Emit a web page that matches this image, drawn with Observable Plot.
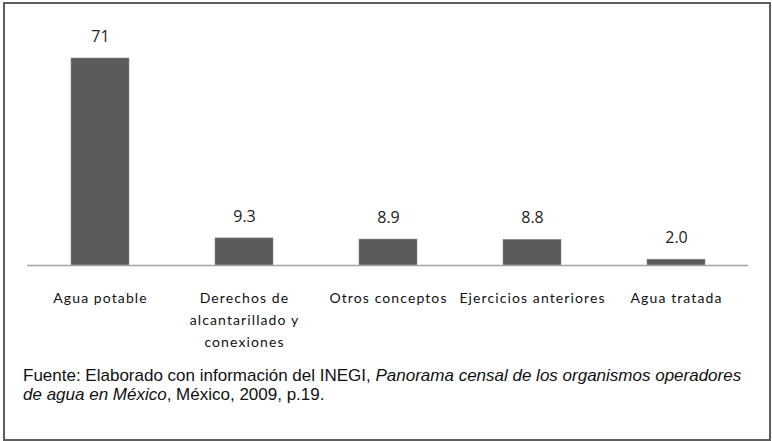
<!DOCTYPE html>
<html>
<head>
<meta charset="utf-8">
<script src="https://cdn.jsdelivr.net/npm/d3@7"></script>
<script src="https://cdn.jsdelivr.net/npm/@observablehq/plot@0.6"></script>
<style>
  html, body { margin: 0; padding: 0; background: #fff; }
  #frame { position: absolute; left: 3px; top: 2px; width: 764px; height: 435px; border: 2px solid #5e5e5e; box-sizing: content-box; }
  #chart { position: absolute; left: 0; top: 0; }
  #caption { position: absolute; left: 23px; top: 366px; font-family: "Liberation Sans", Arial, sans-serif; font-size: 17px; line-height: 19px; color: #111; letter-spacing: 0px; white-space: nowrap; }
</style>
</head>
<body>
<div id="frame"></div>
<div id="chart"></div>
<div id="caption">Fuente: Elaborado con información del INEGI, <i>Panorama censal de los organismos operadores</i><br><i>de agua en México</i>, México, 2009, p.19.</div>
<script>
const categories = ["Agua potable", "Derechos de alcantarillado y conexiones", "Otros conceptos", "Ejercicios anteriores", "Agua tratada"];
const categoryLabels = ["Agua potable", "Derechos de\nalcantarillado y\nconexiones", "Otros conceptos", "Ejercicios anteriores", "Agua tratada"];
const values = [71, 9.3, 8.9, 8.8, 2.0];
const valueLabels = ["71", "9.3", "8.9", "8.8", "2.0"];

const data = categories.map((c, i) => ({category: c, label: categoryLabels[i], value: values[i], valueLabel: valueLabels[i]}));

const chart = Plot.plot({
  width: 772,
  height: 362,
  marginLeft: 27,
  marginRight: 24,
  marginTop: 58,
  marginBottom: 97,
  x: {type: "band", domain: categories, paddingInner: 0.6, paddingOuter: 0.3, axis: null},
  y: {domain: [0, 71], axis: null},
  style: {background: "transparent"},
  marks: [
    Plot.barY(data, {x: "category", y: "value", fill: "#5b5b5b", stroke: "#8c8c8c", strokeWidth: 0.6}),
    Plot.ruleY([0], {stroke: "#a3a3a3", strokeWidth: 1.5}),
    Plot.text(data, {x: "category", y: "value", text: "valueLabel", dy: -22, lineAnchor: "middle", fontSize: 16, fill: "#222", fontFamily: "Open Sans, sans-serif"}),
    Plot.text(data, {x: "category", y: 0, text: "label", dy: 22, lineAnchor: "top", lineHeight: 1.57, fontSize: 14, fill: "#111", fontFamily: "Lato, sans-serif"})
  ]
});
d3.select(chart).selectAll('g[aria-label="text"]').filter((d, i) => i === 1).attr("letter-spacing", "1.1px");
document.getElementById("chart").appendChild(chart);
</script>
</body>
</html>
